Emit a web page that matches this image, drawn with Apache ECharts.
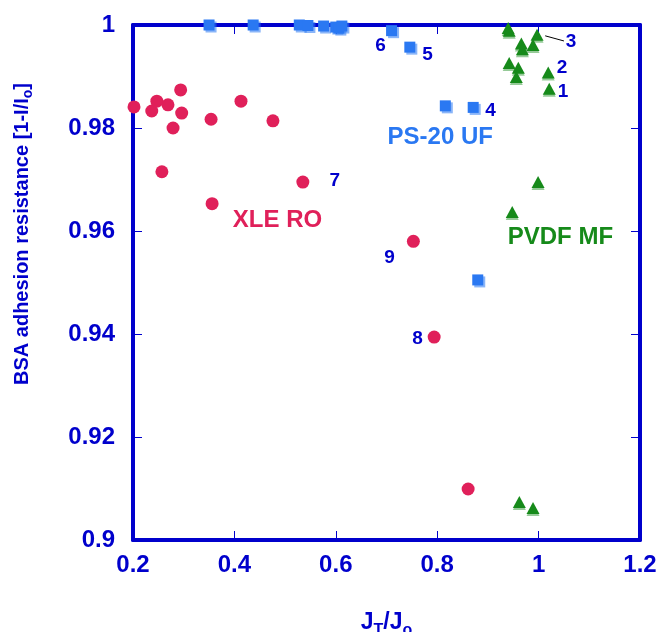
<!DOCTYPE html>
<html>
<head>
<meta charset="utf-8">
<script src="https://cdn.jsdelivr.net/npm/echarts@6/dist/echarts.min.js"></script>
<style>
  html, body { margin: 0; padding: 0; background: #ffffff; }
  #chart { width: 662px; height: 632px; }
</style>
</head>
<body>
<div id="chart"></div>
<script>
// Flux ratio J_T/J_o versus BSA adhesion resistance for three membranes
const xleRO = [
  [0.202, 0.9841], [0.237, 0.9833], [0.247, 0.9852], [0.269, 0.9845],
  [0.294, 0.9874], [0.296, 0.9829], [0.279, 0.9800], [0.257, 0.9715],
  [0.354, 0.9817], [0.413, 0.9852], [0.476, 0.9814], [0.356, 0.9653],
  [0.535, 0.9695], [0.753, 0.9580], [0.794, 0.9394], [0.861, 0.9099]
];
const ps20UF = [
  [0.350, 1.0000], [0.437, 1.0000], [0.528, 1.0000], [0.545, 0.9999],
  [0.576, 0.9998], [0.600, 0.9996], [0.606, 0.9994], [0.612, 0.9998],
  [0.710, 0.9989], [0.746, 0.9957], [0.816, 0.9843], [0.871, 0.9840],
  [0.880, 0.9505]
];
const pvdfMF = [
  [0.940, 0.9994], [0.942, 0.9989], [0.997, 0.9981], [0.966, 0.9964],
  [0.968, 0.9953], [0.989, 0.9961], [0.942, 0.9926], [0.960, 0.9917],
  [0.956, 0.9899], [1.019, 0.9908], [1.021, 0.9876], [0.999, 0.9695],
  [0.948, 0.9637], [0.962, 0.9074], [0.989, 0.9062]
];
// Sample numbers placed beside their points
const sampleNumbers = [
  [1.048, 0.9870, '1'], [1.046, 0.9917, '2'], [1.064, 0.9967, '3'],
  [0.905, 0.9833, '4'], [0.781, 0.9942, '5'], [0.688, 0.9959, '6'],
  [0.598, 0.9697, '7'], [0.761, 0.9390, '8'], [0.706, 0.9548, '9']
];
// Membrane group names
const groupNames = [
  [0.485, 0.9621, 'XLE RO'], [0.806, 0.9781, 'PS-20 UF'], [1.043, 0.9588, 'PVDF MF']
];
// Leader from point 3 to its number
const leader3 = [[1.013, 0.9979], [1.050, 0.9969]];
const xTicks = [0.2, 0.4, 0.6, 0.8, 1, 1.2];
const yTicks = [0.9, 0.92, 0.94, 0.96, 0.98, 1];

const AXIS = '#0000cc';
const RED = '#e0205a';
const BLUE = '#2a78f2';
const GREEN = '#168a1a';
const GROUP_COLORS = [RED, BLUE, GREEN];
const FONT = 'Liberation Sans, Arial, sans-serif';

const chart = echarts.init(document.getElementById('chart'), null, { renderer: 'canvas' });

function frameAxis(extra) {
  return Object.assign({
    axisLine: { show: true, onZero: false, lineStyle: { color: AXIS, width: 4 } },
    axisTick: { show: true, inside: true, length: 9, lineStyle: { color: AXIS, width: 1 } },
    splitLine: { show: false },
  }, extra);
}

const tickLabel = (margin) => ({
  color: AXIS, fontSize: 24, fontWeight: 'bold', fontFamily: FONT, margin,
  formatter: v => String(+v.toFixed(2))
});

const option = {
  animation: false,
  backgroundColor: '#ffffff',
  grid: { left: 133, right: 22, top: 25, bottom: 92, containLabel: false, outerBoundsMode: 'none' },
  xAxis: [
    frameAxis({
      type: 'value', position: 'bottom', min: xTicks[0], max: xTicks[xTicks.length - 1], interval: 0.2,
      axisLabel: tickLabel(13),
      name: '{m|J}{s|T}{m|/J}{s|o}', nameLocation: 'middle', nameGap: 67,
      nameTextStyle: { rich: {
        m: { color: AXIS, fontSize: 23, fontWeight: 'bold', fontFamily: FONT },
        s: { color: AXIS, fontSize: 16, fontWeight: 'bold', fontFamily: FONT, verticalAlign: 'bottom', padding: [16, 0, 0, 0] }
      } }
    }),
    frameAxis({
      type: 'value', position: 'top', min: xTicks[0], max: xTicks[xTicks.length - 1], interval: 0.2,
      axisLabel: { show: false }
    })
  ],
  yAxis: [
    frameAxis({
      type: 'value', position: 'left', min: yTicks[0], max: yTicks[yTicks.length - 1], interval: 0.02,
      axisLabel: tickLabel(18)
    }),
    frameAxis({
      type: 'value', position: 'right', min: yTicks[0], max: yTicks[yTicks.length - 1], interval: 0.02,
      axisLabel: { show: false }
    })
  ],
  series: [
    {
      name: 'XLE RO', type: 'scatter', data: xleRO, symbol: 'circle', symbolSize: 13,
      itemStyle: { color: RED, opacity: 1 }
    },
    {
      name: 'PS-20 UF', type: 'scatter', data: ps20UF, symbol: 'rect', symbolSize: 11,
      itemStyle: { color: BLUE, opacity: 1, shadowColor: 'rgba(42,120,242,0.55)', shadowBlur: 0, shadowOffsetX: 2, shadowOffsetY: 2 }
    },
    {
      name: 'PVDF MF', type: 'scatter', data: pvdfMF, symbol: 'triangle', symbolSize: [13, 12],
      itemStyle: { color: GREEN, opacity: 1, shadowColor: 'rgba(22,138,26,0.45)', shadowBlur: 0, shadowOffsetX: 0, shadowOffsetY: 2 }
    },
    {
      type: 'line', data: leader3, symbol: 'none', silent: true,
      lineStyle: { color: '#000000', width: 1 }, z: 1
    },
    {
      type: 'scatter', data: sampleNumbers, symbolSize: 0, silent: true,
      itemStyle: { opacity: 1 },
      label: { show: true, position: 'inside', formatter: p => p.value[2],
        color: AXIS, fontSize: 19, fontWeight: 'bold', fontFamily: FONT }
    },
    {
      type: 'scatter', symbolSize: 0, silent: true,
      itemStyle: { opacity: 1 },
      data: groupNames.map((g, i) => ({ value: g, label: { color: GROUP_COLORS[i] } })),
      label: { show: true, position: 'inside', formatter: p => p.value[2],
        fontSize: 24, fontWeight: 'bold', fontFamily: FONT }
    }
  ],
  graphic: [
    {
      type: 'text', x: 22, y: 234, rotation: Math.PI / 2,
      style: {
        text: '{m|BSA adhesion resistance [1-I/I}{s|o}{m|]}',
        rich: {
          m: { fill: AXIS, fontSize: 20, fontWeight: 'bold', fontFamily: FONT },
          s: { fill: AXIS, fontSize: 14, fontWeight: 'bold', fontFamily: FONT, padding: [12, 0, 0, 0] }
        },
        align: 'center', verticalAlign: 'middle'
      }
    }
  ]
};

chart.setOption(option);
</script>
</body>
</html>
